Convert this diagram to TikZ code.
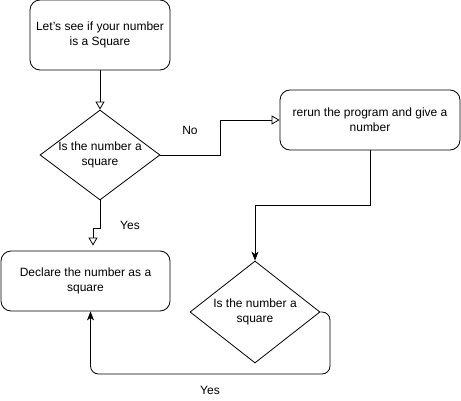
\documentclass[tikz,border=0pt]{standalone}
\usepackage{fontspec}
\setmainfont{Liberation Sans}
\usetikzlibrary{shapes.geometric,arrows.meta}
\begin{document}
\begin{tikzpicture}[
  x=1pt, y=-1pt, line width=0.8pt,
  every node/.style={font=\fontsize{12}{15}\selectfont},
  box/.style={draw, rounded corners=10pt, align=center, inner sep=0pt},
  chk/.style={draw, diamond, inner sep=0pt},
  chktext/.style={align=center},
  openarr/.style={-{Triangle[open, length=8pt, width=9pt]}},
  arr/.style={-{Stealth[length=9pt, width=7pt, inset=2.5pt]}}
]
\useasboundingbox (0,0) rectangle (461,401);
\node[box, minimum width=140pt, minimum height=70pt] (start) at (100,35) {Let's see if your number\\is a Square};
\node[chk, minimum width=120pt, minimum height=90pt] (chk1) at (100,155) {};
\node[chktext] (chk1t) at (100,155) {Is the number a\\square};
\node[box, minimum width=180pt, minimum height=60pt] (rerun) at (370,120) {rerun the program and give a\\number};
\node[chk, minimum width=130pt, minimum height=102pt] (chk2) at (255,312) {};
\node[chktext] (chk2t) at (255,312) {Is the number a\\square};
\node[box, minimum width=169pt, minimum height=60pt] (decl) at (85.5,281) {Declare the number as a\\square};
\node (no) at (190,130) {No};
\node (yes1) at (130,225) {Yes};
\node (yes2) at (210,390) {Yes};
\coordinate (loop) at (330,374);
\draw[openarr] (start) -- (chk1);
\draw[openarr] (chk1.east) -- ++(60,0) |- (rerun.west);
\draw[openarr, shorten >=5pt] (chk1.south) -- ++(0,28) -| ([xshift=-7pt]decl.north -| chk1.south);
\draw[arr] (rerun.south) -- ++(0,55) -| (chk2.north);
\draw[arr, rounded corners=8pt] (chk2.east) -| (loop) -| ([xshift=5pt]decl.south);
\end{tikzpicture}
\end{document}
